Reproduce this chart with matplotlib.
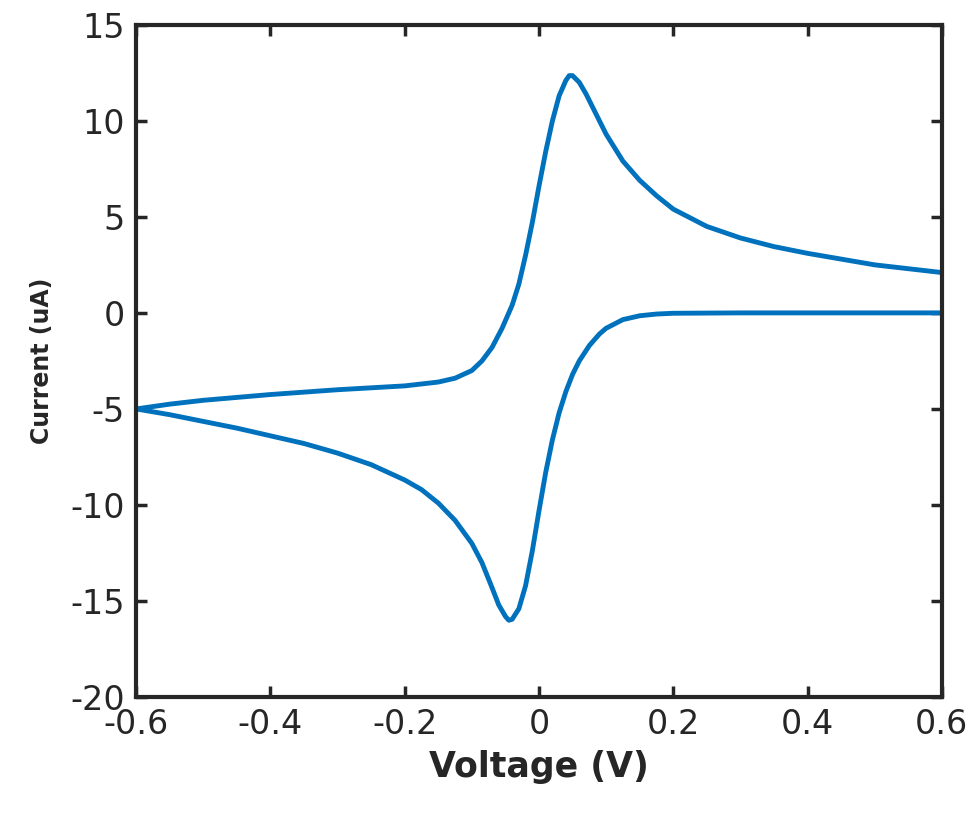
import matplotlib
matplotlib.use("Agg")
import matplotlib.pyplot as plt

# cathodic (lower) branch
v_low = [-0.6, -0.55, -0.5, -0.45, -0.4, -0.35, -0.3, -0.25, -0.2, -0.175, -0.15,
         -0.125, -0.1, -0.085, -0.07, -0.06, -0.05, -0.045, -0.04, -0.03, -0.02,
         -0.01, 0.0, 0.01, 0.02, 0.03, 0.04, 0.05, 0.06, 0.075, 0.09, 0.1, 0.125,
         0.15, 0.175, 0.2, 0.3, 0.6]
i_low = [-5.0, -5.3, -5.65, -6.0, -6.4, -6.8, -7.3, -7.9, -8.7, -9.2, -9.9,
         -10.8, -12.0, -13.0, -14.3, -15.2, -15.8, -16.0, -15.95, -15.4, -14.2,
         -12.4, -10.3, -8.3, -6.6, -5.2, -4.1, -3.2, -2.5, -1.7, -1.1, -0.8, -0.35,
         -0.15, -0.06, -0.02, 0.0, 0.0]

# anodic (upper) branch
v_up = [-0.6, -0.55, -0.5, -0.4, -0.3, -0.2, -0.15, -0.125, -0.1, -0.085, -0.07,
        -0.055, -0.04, -0.03, -0.02, -0.01, 0.0, 0.01, 0.02, 0.03, 0.04, 0.045,
        0.05, 0.06, 0.07, 0.08, 0.09, 0.1, 0.125, 0.15, 0.175, 0.2, 0.25, 0.3,
        0.35, 0.4, 0.45, 0.5, 0.55, 0.6]
i_up = [-5.0, -4.75, -4.55, -4.25, -4.0, -3.8, -3.6, -3.4, -3.0, -2.5, -1.8,
        -0.8, 0.4, 1.5, 3.0, 4.7, 6.6, 8.4, 10.0, 11.3, 12.1, 12.35,
        12.35, 12.0, 11.4, 10.7, 10.0, 9.3, 7.9, 6.9, 6.1, 5.4, 4.5, 3.9,
        3.45, 3.1, 2.8, 2.5, 2.3, 2.1]

xticks = [-0.6, -0.4, -0.2, 0, 0.2, 0.4, 0.6]
xticklabels = ["-0.6", "-0.4", "-0.2", "0", "0.2", "0.4", "0.6"]
yticks = [-20, -15, -10, -5, 0, 5, 10, 15]
yticklabels = ["-20", "-15", "-10", "-5", "0", "5", "10", "15"]

fig = plt.figure(figsize=(9.8, 8.24), dpi=100)
ax = fig.add_axes([0.139, 0.154, 0.822, 0.816])
color = "#0072BD"
ax.plot(v_low, i_low, color=color, lw=3.5, solid_joinstyle="round")
ax.plot(v_up, i_up, color=color, lw=3.5, solid_joinstyle="round")

ax.set_xlim(-0.6, 0.6)
ax.set_ylim(-20, 15)
ax.set_xticks(xticks)
ax.set_xticklabels(xticklabels)
ax.set_yticks(yticks)
ax.set_yticklabels(yticklabels)
ax.tick_params(direction="in", length=8, width=2.5, labelsize=24,
               top=True, right=True, colors="#262626", labelcolor="#262626", pad=8)
for s in ax.spines.values():
    s.set_linewidth(3)
    s.set_color("#262626")
ax.set_xlabel("Voltage (V)", fontsize=25, fontweight="bold", color="#262626", labelpad=6)
ax.set_ylabel("Current (uA)", fontsize=17, fontweight="bold", color="#262626", labelpad=12)

fig.savefig("out.png", dpi=100, facecolor="white")
